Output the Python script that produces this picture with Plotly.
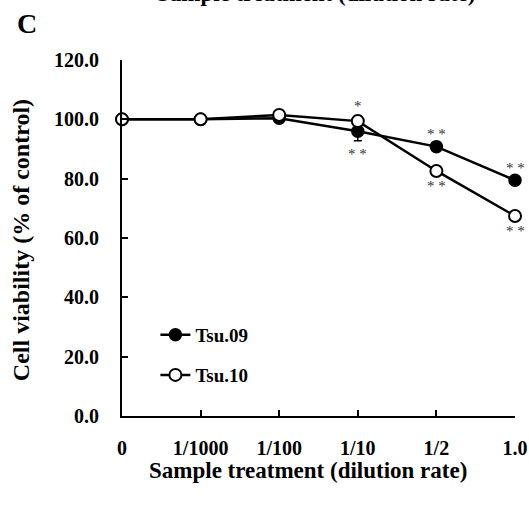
import plotly.graph_objects as go

# Dilution categories and cell viability (% of control)
categories = ["0", "1/1000", "1/100", "1/10", "1/2", "1.0"]
tsu09 = [100.0, 100.0, 100.4, 96.0, 90.8, 79.5]
tsu09_err = [0.5, 0.5, 0.6, 3.2, 0.8, 0.8]
tsu10 = [100.0, 100.0, 101.5, 99.4, 82.6, 67.4]
tsu10_err = [0.5, 0.5, 0.9, 1.8, 0.7, 0.7]
y_ticks = [0, 20, 40, 60, 80, 100, 120]

# significance marks: (category index, series, text, above?)
sig_marks = [
    (3, "tsu10", "*", True),
    (3, "tsu09", "* *", False),
    (4, "tsu09", "* *", True),
    (4, "tsu10", "* *", False),
    (5, "tsu09", "* *", True),
    (5, "tsu10", "* *", False),
]

SERIF = "Liberation Serif, Times New Roman, serif"
xs = list(range(len(categories)))

MARGIN = dict(l=122, r=14, t=60, b=99)
HEIGHT = 515
Y_RANGE = [0, 120]
px_per_unit = (HEIGHT - MARGIN["t"] - MARGIN["b"]) / (Y_RANGE[1] - Y_RANGE[0])

fig = go.Figure()
fig.add_trace(go.Scatter(
    x=xs, y=tsu09, name="Tsu.09", mode="lines+markers",
    line=dict(color="black", width=2.5),
    marker=dict(symbol="circle", size=12, color="black",
                line=dict(color="black", width=1.5)),
    error_y=dict(type="data", array=tsu09_err, color="black",
                 thickness=1.5, width=4),
    cliponaxis=False, legend="legend",
))
fig.add_trace(go.Scatter(
    x=xs, y=tsu10, name="Tsu.10", mode="lines+markers",
    line=dict(color="black", width=2.5),
    marker=dict(symbol="circle", size=12, color="white",
                line=dict(color="black", width=2)),
    error_y=dict(type="data", array=tsu10_err, color="black",
                 thickness=1.5, width=4),
    cliponaxis=False, legend="legend2",
))

series = {"tsu09": (tsu09, tsu09_err), "tsu10": (tsu10, tsu10_err)}
annotations = []
for idx, key, txt, above in sig_marks:
    vals, errs = series[key]
    err_px = errs[idx] * px_per_unit
    shift = (10 + err_px) if above else -(13 + err_px)
    annotations.append(dict(
        x=idx, y=vals[idx], xref="x", yref="y", text=txt,
        showarrow=False, yshift=shift,
        font=dict(family=SERIF, size=15, color="#333"),
    ))

annotations += [
    dict(text="Sample treatment (dilution rate)", xref="paper", yref="paper",
         x=0.494, y=1.187, showarrow=False, xanchor="center", yanchor="middle",
         font=dict(family=SERIF, size=23, color="black", weight="bold")),
    dict(text="C", xref="paper", yref="paper", x=-0.242, y=1.103,
         showarrow=False, xanchor="center", yanchor="middle",
         font=dict(family=SERIF, size=28, color="black", weight="bold")),
    dict(text="Cell viability (% of control)", xref="paper", yref="paper",
         x=-0.257, y=0.494, showarrow=False, textangle=-90,
         xanchor="center", yanchor="middle",
         font=dict(family=SERIF, size=24, color="black", weight="bold")),
    dict(text="Sample treatment (dilution rate)", xref="paper", yref="paper",
         x=0.473, y=-0.152, showarrow=False, xanchor="center", yanchor="middle",
         font=dict(family=SERIF, size=23, color="black", weight="bold")),
]

legend_font = dict(family=SERIF, size=19, color="black", weight="bold")
fig.update_layout(
    width=529, height=HEIGHT,
    margin=MARGIN,
    plot_bgcolor="white", paper_bgcolor="white",
    showlegend=True,
    annotations=annotations,
    legend=dict(x=0.085, y=0.228, xanchor="left", yanchor="middle",
                font=legend_font, bgcolor="rgba(0,0,0,0)", itemwidth=30),
    legend2=dict(x=0.085, y=0.115, xanchor="left", yanchor="middle",
                 font=legend_font, bgcolor="rgba(0,0,0,0)", itemwidth=30),
    xaxis=dict(
        range=[0, 5], tickvals=xs, ticktext=categories, automargin=False,
        showline=True, linecolor="black", linewidth=2,
        ticks="inside", ticklen=6, tickwidth=2, tickcolor="black",
        showgrid=False, zeroline=False, ticklabelstandoff=13,
        tickfont=dict(family=SERIF, size=20, color="black", weight="bold"),
    ),
    yaxis=dict(
        range=Y_RANGE, tickvals=y_ticks, tickformat=".1f", automargin=False,
        showline=True, linecolor="black", linewidth=2,
        ticks="inside", ticklen=6, tickwidth=2, tickcolor="black",
        showgrid=False, zeroline=False, ticklabelstandoff=17,
        tickfont=dict(family=SERIF, size=20, color="black", weight="bold"),
    ),
)

fig.write_html("out.html")
